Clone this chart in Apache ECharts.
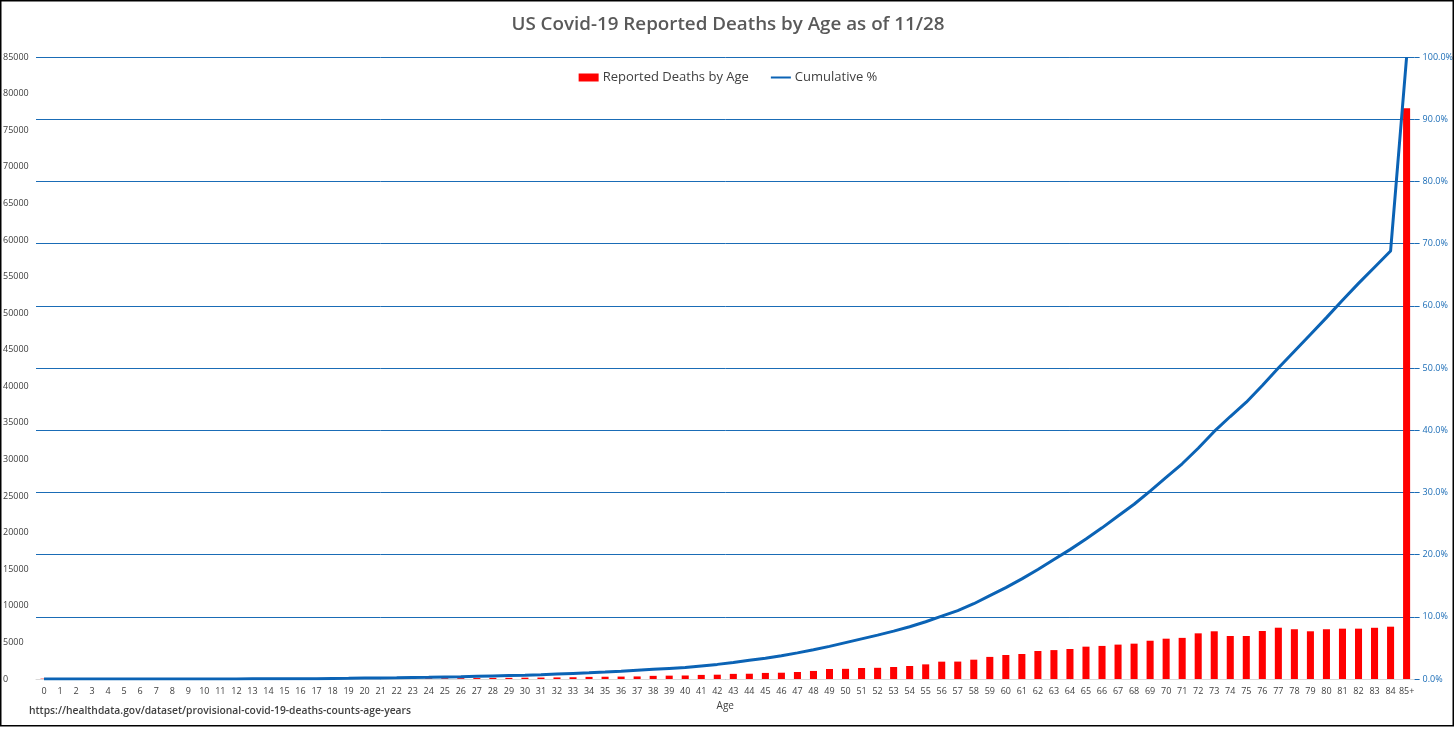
<!DOCTYPE html>
<html>
<head>
<meta charset="utf-8">
<script src="https://cdn.jsdelivr.net/npm/echarts@6/dist/echarts.min.js"></script>
<style>
html,body{margin:0;padding:0;background:#fff;}
#c{width:1456px;height:729px;}
</style>
</head>
<body>
<div id="c"></div>
<script>
const ages = ['0','1','2','3','4','5','6','7','8','9','10','11','12','13','14','15','16','17','18','19','20','21','22','23','24','25','26','27','28','29','30','31','32','33','34','35','36','37','38','39','40','41','42','43','44','45','46','47','48','49','50','51','52','53','54','55','56','57','58','59','60','61','62','63','64','65','66','67','68','69','70','71','72','73','74','75','76','77','78','79','80','81','82','83','84','85+'];

const deaths = [45,10,6,5,5,6,5,6,7,8,8,10,12,15,18,24,30,38,45,55,62,70,78,86,95,105,115,130,150,160,180,195,215,240,290,310,330,350,430,460,480,560,590,700,720,830,860,960,1100,1370,1390,1500,1530,1640,1780,2000,2370,2380,2640,3020,3280,3420,3830,3950,4100,4420,4520,4700,4830,5230,5510,5620,6240,6520,5880,5880,6560,7010,6800,6520,6800,6880,6880,7000,7150,78000];

const cumulativePct = [0,0,0,0,0,0,0,0,0.01,0.01,0.01,0.02,0.02,0.03,0.03,0.04,0.05,0.06,0.1,0.12,0.15,0.18,0.2,0.24,0.28,0.33,0.38,0.44,0.5,0.56,0.62,0.7,0.8,0.9,1.0,1.12,1.25,1.4,1.55,1.7,1.85,2.1,2.35,2.65,3.0,3.35,3.75,4.2,4.7,5.25,5.85,6.45,7.05,7.7,8.4,9.2,10.1,11.0,12.1,13.4,14.7,16.1,17.6,19.2,20.8,22.5,24.3,26.2,28.1,30.2,32.4,34.6,37.1,39.8,42.2,44.5,47.2,50.0,52.7,55.4,58.1,60.9,63.6,66.2,68.8,100];

const titleText = 'US Covid-19 Reported Deaths by Age as of 11/28';
const sourceText = 'https://healthdata.gov/dataset/provisional-covid-19-deaths-counts-age-years';

const chart = echarts.init(document.getElementById('c'));
const gridBlue = '#1a6cb6';
chart.setOption({
  animation: false,
  backgroundColor: '#fff',
  textStyle: {fontFamily: '"Open Sans", "Noto Sans", sans-serif'},
  title: {
    text: titleText, left: 'center', top: 10,
    textStyle: {fontSize: 18.8, fontWeight: 600, color: '#595959', fontFamily: '"Open Sans", sans-serif'}
  },
  legend: {
    top: 66, left: 'center', itemGap: 21, itemWidth: 20, itemHeight: 8,
    textStyle: {fontSize: 13, color: '#404040', padding: [0,0,0,-1]},
    data: [
      {name: 'Reported Deaths by Age', icon: 'rect'},
      {name: 'Cumulative %', itemStyle: {opacity: 0}}
    ]
  },
  grid: {left: 35, right: 41, top: 57, bottom: 50, containLabel: false},
  xAxis: {
    type: 'category', data: ages,
    name: 'Age', nameLocation: 'middle', nameGap: 22,
    nameTextStyle: {fontSize: 10, color: '#404040'},
    axisLine: {lineStyle: {color: '#d9d9d9'}},
    axisTick: {show: false},
    axisLabel: {interval: 0, fontSize: 9, color: '#404040', margin: 8}
  },
  yAxis: [
    {
      type: 'value', min: 0, max: 85000, interval: 5000,
      splitLine: {show: false}, axisLine: {show: false}, axisTick: {show: false},
      axisLabel: {fontSize: 9, color: '#404040', align: 'left', margin: 33, formatter: v => String(v)}
    },
    {
      type: 'value', min: 0, max: 100, interval: 10, position: 'right',
      splitLine: {show: true, lineStyle: {color: gridBlue, width: 1}},
      axisLine: {show: false},
      axisTick: {show: true, length: 5, lineStyle: {color: gridBlue}},
      axisLabel: {fontSize: 9, color: '#1a6cb6', margin: 8, formatter: v => v.toFixed(1) + '%'}
    }
  ],
  series: [
    {
      name: 'Reported Deaths by Age', type: 'bar', yAxisIndex: 0,
      data: deaths, barWidth: '44%', itemStyle: {color: '#ff0000'}
    },
    {
      name: 'Cumulative %', type: 'line', yAxisIndex: 1,
      data: cumulativePct, symbol: 'none', smooth: false,
      lineStyle: {color: '#0b63b5', width: 3}, itemStyle: {color: '#0b63b5'}
    }
  ],
  graphic: [
    {type: 'text', left: 29, top: 706, style: {text: sourceText, fontSize: 10.3, fontWeight: 600, fill: '#404040', fontFamily: '"Open Sans", sans-serif'}},
    {type: 'rect', shape: {x: 0.75, y: 0.75, width: 1452.5, height: 725}, style: {fill: 'none', stroke: '#000', lineWidth: 1.5}, z: 100}
  ]
});
</script>
</body>
</html>
